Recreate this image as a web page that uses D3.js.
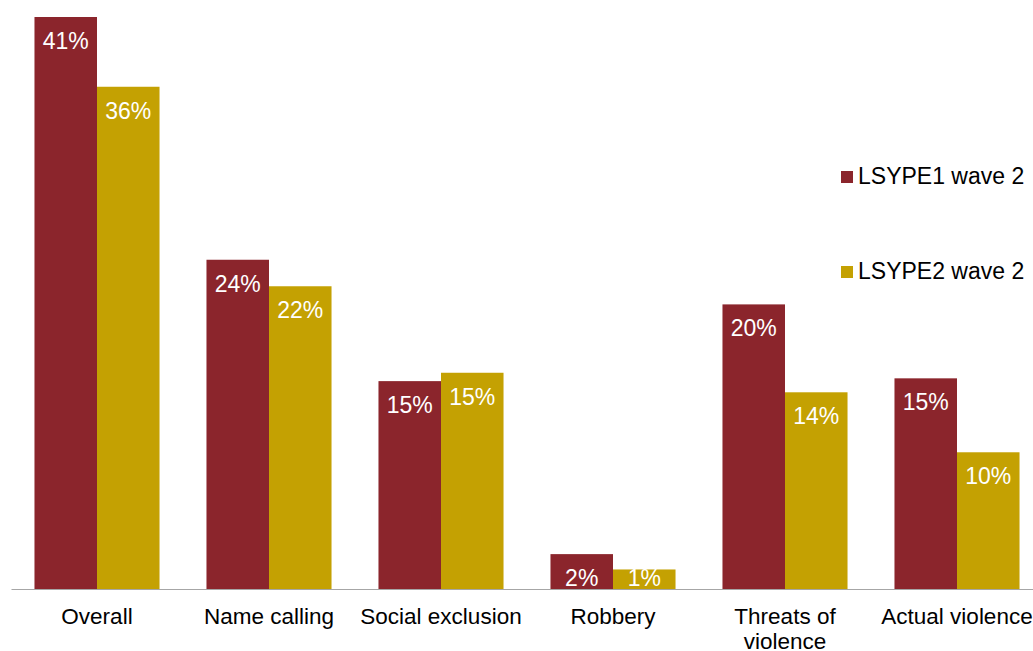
<!DOCTYPE html>
<html>
<head>
<meta charset="utf-8">
<script src="https://cdn.jsdelivr.net/npm/d3@7"></script>
<style>
  body { margin: 0; background: #fff; }
  text { font-family: "Liberation Sans", Arial, sans-serif; }
</style>
</head>
<body>
<div id="chart"></div>
<script>
const width = 1033, height = 651;

const categories = ["Overall", "Name calling", "Social exclusion", "Robbery", "Threats of violence", "Actual violence"];
const seriesNames = ["LSYPE1 wave 2", "LSYPE2 wave 2"];
const wave1 = [41, 23.6, 14.9, 2.5, 20.4, 15.1];
const wave2 = [36, 21.7, 15.5, 1.4, 14.1, 9.8];
const wave1Labels = ["41%", "24%", "15%", "2%", "20%", "15%"];
const wave2Labels = ["36%", "22%", "15%", "1%", "14%", "10%"];

const colors = ["#8b252c", "#c4a102"];

const data = categories.map((c, i) => ({
  cat: c,
  vals: [
    { key: seriesNames[0], v: wave1[i], label: wave1Labels[i] },
    { key: seriesNames[1], v: wave2[i], label: wave2Labels[i] }
  ]
}));

const svg = d3.select("#chart").append("svg")
  .attr("width", width)
  .attr("height", height);

const baseY = 589;

const x = d3.scaleBand()
  .domain(categories)
  .range([11, 1043])
  .paddingInner(0.273)
  .paddingOuter(0.1365);

const x1 = d3.scaleBand()
  .domain(seriesNames)
  .range([0, x.bandwidth()]);

const y = d3.scaleLinear()
  .domain([0, 41])
  .range([baseY, 17]);

const color = d3.scaleOrdinal().domain(seriesNames).range(colors);

const groups = svg.append("g")
  .selectAll("g")
  .data(data)
  .join("g")
  .attr("transform", d => `translate(${x(d.cat)},0)`);

groups.selectAll("rect")
  .data(d => d.vals)
  .join("rect")
  .attr("x", d => x1(d.key))
  .attr("y", d => y(d.v))
  .attr("width", x1.bandwidth())
  .attr("height", d => baseY - y(d.v))
  .attr("fill", d => color(d.key));

// value labels inside bars
groups.selectAll("text.val")
  .data(d => d.vals)
  .join("text")
  .attr("class", "val")
  .attr("x", d => x1(d.key) + x1.bandwidth() / 2)
  .attr("y", d => Math.min(y(d.v) + 32, baseY - 3))
  .attr("text-anchor", "middle")
  .attr("fill", "#fff")
  .style("font-size", "23px")
  .text(d => d.label);

// x axis
const xAxis = svg.append("g")
  .attr("transform", `translate(0,${baseY})`)
  .call(d3.axisBottom(x).tickSize(0).tickPadding(0).tickFormat(""));
xAxis.select(".domain").attr("stroke", "#a6a6a6").attr("stroke-width", 1.2);

xAxis.selectAll(".tick").each(function(d) {
  const t = d3.select(this).append("text")
    .attr("fill", "#000")
    .attr("text-anchor", "middle")
    .style("font-size", "22.5px");
  const lines = d === "Threats of violence" ? ["Threats of", "violence"] : [d];
  lines.forEach((ln, i) => {
    t.append("tspan").attr("x", 0).attr("y", 35 + i * 25).text(ln);
  });
});

// legend
const legend = svg.append("g").attr("transform", "translate(841,171)");
const li = legend.selectAll("g")
  .data(seriesNames)
  .join("g")
  .attr("transform", (d, i) => `translate(0,${i * 95})`);
li.append("rect")
  .attr("width", 12).attr("height", 12)
  .attr("fill", d => color(d));
li.append("text")
  .attr("x", 17).attr("y", 12.5)
  .attr("fill", "#000")
  .style("font-size", "23px")
  .text(d => d);
</script>
</body>
</html>
